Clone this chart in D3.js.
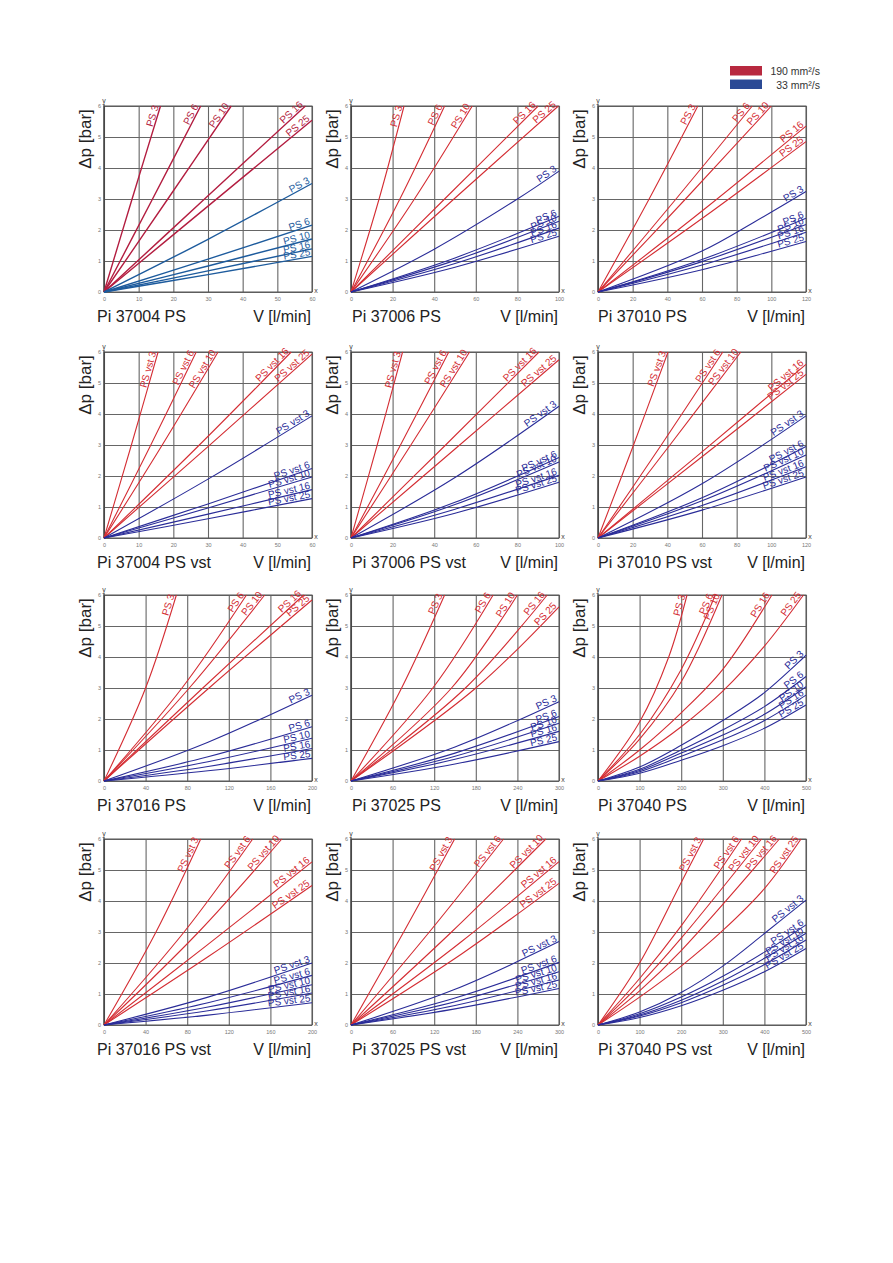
<!DOCTYPE html>
<html>
<head>
<meta charset="utf-8">
<script src="https://cdn.jsdelivr.net/npm/d3@7"></script>
<style>
  body { margin: 0; background: #fff; }
  text { font-family: Arial, "Liberation Sans", sans-serif; }
</style>
</head>
<body>
<div id="plot"></div>
<script>
// panel titles and x ranges
const titles = ["Pi 37004 PS", "Pi 37006 PS", "Pi 37010 PS",
                "Pi 37004 PS vst", "Pi 37006 PS vst", "Pi 37010 PS vst",
                "Pi 37016 PS", "Pi 37025 PS", "Pi 37040 PS",
                "Pi 37016 PS vst", "Pi 37025 PS vst", "Pi 37040 PS vst"];
const xTicks = [[0, 10, 20, 30, 40, 50, 60], [0, 20, 40, 60, 80, 100], [0, 20, 40, 60, 80, 100, 120],
                [0, 10, 20, 30, 40, 50, 60], [0, 20, 40, 60, 80, 100], [0, 20, 40, 60, 80, 100, 120],
                [0, 40, 80, 120, 160, 200], [0, 60, 120, 180, 240, 300], [0, 100, 200, 300, 400, 500],
                [0, 40, 80, 120, 160, 200], [0, 60, 120, 180, 240, 300], [0, 100, 200, 300, 400, 500]];
const yTicks = [0, 1, 2, 3, 4, 5, 6];
const namesPS = ["PS 3", "PS 6", "PS 10", "PS 16", "PS 25"];
const namesVst = ["PS vst 3", "PS vst 6", "PS vst 10", "PS vst 16", "PS vst 25"];
const legendLabels = ["190 mm²/s", "33 mm²/s"];

// curves: [V l/min, dp bar]
const red37004 = [[[0,0],[8.1,3],[16.3,6]], [[0,0],[14,3],[27.9,6]], [[0,0],[18.4,3],[36.7,6]],
                  [[0,0],[29,3],[58.1,6]], [[0,0],[30,2.77],[60,5.54]]];
const blue37004 = [[[0,0],[30,1.7],[60,3.5]], [[0,0],[30,1.06],[60,2.16]], [[0,0],[30,0.84],[60,1.71]],
                   [[0,0],[30,0.68],[60,1.39]], [[0,0],[30,0.56],[60,1.15]]];
const red37006 = [[[0,0],[13.5,3],[25.5,6]], [[0,0],[23.5,3],[45,6]], [[0,0],[30.5,3],[58.3,6]],
                  [[0,0],[45,3],[90,6]], [[0,0],[49.5,3],[99.7,6]]];
const blue37006 = [[[0,0],[40,1.38],[80,3.0],[100,3.9]], [[0,0],[50,1.1],[100,2.44]], [[0,0],[50,1.02],[100,2.28]],
                   [[0,0],[50,0.92],[100,2.06]], [[0,0],[50,0.8],[100,1.8]]];
const red37010 = [[[0,0],[29.5,3],[57.6,6]], [[0,0],[45,3],[89,6]], [[0,0],[50.5,3],[100,6]],
                  [[0,0],[62,2.7],[120,5.35]], [[0,0],[62,2.45],[120,4.85]]];
const blue37010 = [[[0,0],[60,1.32],[90,2.25],[120,3.24]], [[0,0],[60,1.05],[120,2.38]], [[0,0],[60,0.98],[120,2.18]],
                   [[0,0],[60,0.87],[120,1.93]], [[0,0],[60,0.72],[120,1.63]]];
const red37004v = [[[0,0],[7.9,3],[15.6,6]], [[0,0],[13.5,3],[26.6,6]], [[0,0],[16.8,3],[32.9,6]],
                   [[0,0],[27.5,3],[54,6]], [[0,0],[30,2.95],[60,5.93]]];
const blue37004v = [[[0,0],[30,1.9],[60,3.94]], [[0,0],[30,1.1],[60,2.24]], [[0,0],[30,0.97],[60,1.97]],
                    [[0,0],[30,0.77],[60,1.56]], [[0,0],[30,0.62],[60,1.27]]];
const red37006v = [[[0,0],[12.6,3],[24.8,6]], [[0,0],[23.8,3],[47,6]], [[0,0],[28.8,3],[57,6]],
                   [[0,0],[45.5,3],[90.4,6]], [[0,0],[50,2.87],[100,5.75]]];
const blue37006v = [[[0,0],[50,1.95],[100,4.25]], [[0,0],[50,1.15],[100,2.6]], [[0,0],[50,1.08],[100,2.45]],
                    [[0,0],[50,0.93],[100,2.02]], [[0,0],[50,0.8],[100,1.8]]];
const red37010v = [[[0,0],[20.5,3],[40.4,6]], [[0,0],[36.5,3],[72,6]], [[0,0],[41.5,3],[82.4,6]],
                   [[0,0],[60,2.78],[120,5.6]], [[0,0],[60,2.62],[120,5.28]]];
const blue37010v = [[[0,0],[60,1.75],[120,3.94]], [[0,0],[60,1.3],[120,2.95]], [[0,0],[60,1.2],[120,2.68]],
                    [[0,0],[60,1.05],[120,2.3]], [[0,0],[60,0.9],[120,1.97]]];
const red37016 = [[[0,0],[40,3],[69.6,6]], [[0,0],[75,3],[137,6]], [[0,0],[82,3],[154.5,6]],
                  [[0,0],[95,3],[192,6]], [[0,0],[101,3],[200,5.84]]];
const blue37016 = [[[0,0],[100,1.25],[200,2.77]], [[0,0],[100,0.78],[200,1.75]], [[0,0],[100,0.62],[200,1.38]],
                   [[0,0],[100,0.47],[200,1.05]], [[0,0],[100,0.33],[200,0.73]]];
const red37025 = [[[0,0],[73,3],[135,6]], [[0,0],[118,3],[205,6]], [[0,0],[145,3],[240,6]],
                  [[0,0],[165,3],[283,6]], [[0,0],[180,3],[300,5.62]]];
const blue37025 = [[[0,0],[150,1.1],[300,2.56]], [[0,0],[150,0.9],[300,2.08]], [[0,0],[150,0.8],[300,1.86]],
                   [[0,0],[150,0.7],[300,1.6]], [[0,0],[150,0.55],[300,1.27]]];
const red37040 = [[[0,0],[100,1.9],[170,4],[214,6]], [[0,0],[100,1.5],[200,3.6],[282,6]],
                  [[0,0],[100,1.35],[200,3.2],[298,6]], [[0,0],[100,1.0],[200,2.2],[300,3.6],[418,6]],
                  [[0,0],[100,0.8],[200,1.75],[300,2.9],[400,4.35],[494,6]]];
const blue37040 = [[[0,0],[100,0.45],[200,1.15],[300,1.95],[400,2.85],[500,4.06]],
                   [[0,0],[100,0.38],[200,1.0],[300,1.65],[400,2.4],[500,3.37]],
                   [[0,0],[100,0.34],[200,0.9],[300,1.48],[400,2.15],[500,3.04]],
                   [[0,0],[100,0.3],[200,0.8],[300,1.33],[400,1.95],[500,2.77]],
                   [[0,0],[100,0.25],[200,0.67],[300,1.14],[400,1.7],[500,2.45]]];
const red37016v = [[[0,0],[50,3],[93,6]], [[0,0],[77,3],[143,6]], [[0,0],[91,3],[171,6]],
                   [[0,0],[100,2.6],[200,5.26]], [[0,0],[100,2.2],[200,4.5]]];
const blue37016v = [[[0,0],[100,0.9],[200,2.0]], [[0,0],[100,0.72],[200,1.6]], [[0,0],[100,0.58],[200,1.3]],
                    [[0,0],[100,0.46],[200,1.03]], [[0,0],[100,0.32],[200,0.72]]];
const red37025v = [[[0,0],[76,3],[149.5,6]], [[0,0],[113,3],[220,6]], [[0,0],[145,3],[281,6]],
                   [[0,0],[160,2.7],[300,5.27]], [[0,0],[160,2.3],[300,4.57]]];
const blue37025v = [[[0,0],[150,1.15],[300,2.69]], [[0,0],[150,0.87],[300,2.02]], [[0,0],[150,0.75],[300,1.72]],
                    [[0,0],[150,0.63],[300,1.45]], [[0,0],[150,0.52],[300,1.18]]];
const red37040v = [[[0,0],[100,2.0],[200,4.6],[254,6]], [[0,0],[100,1.5],[200,3.2],[345,6]],
                   [[0,0],[100,1.3],[200,2.8],[393,6]], [[0,0],[100,1.1],[200,2.4],[436,6]],
                   [[0,0],[100,0.9],[200,1.9],[300,3.05],[400,4.4],[488,6]]];
const blue37040v = [[[0,0],[100,0.42],[200,1.05],[300,1.9],[400,2.95],[500,4.03]],
                    [[0,0],[100,0.36],[200,0.9],[300,1.57],[400,2.35],[500,3.23]],
                    [[0,0],[100,0.32],[200,0.8],[300,1.42],[400,2.15],[500,2.96]],
                    [[0,0],[100,0.29],[200,0.72],[300,1.28],[400,1.95],[500,2.74]],
                    [[0,0],[100,0.24],[200,0.62],[300,1.12],[400,1.72],[500,2.47]]];

const redSets = [red37004, red37006, red37010, red37004v, red37006v, red37010v,
                 red37016, red37025, red37040, red37016v, red37025v, red37040v];
const blueSets = [blue37004, blue37006, blue37010, blue37004v, blue37006v, blue37010v,
                  blue37016, blue37025, blue37040, blue37016v, blue37025v, blue37040v];

// layout
const colLeft = [104, 351, 598];
const rowTop = [106, 352, 595, 839];
const plotW = 208, plotH = 186;
const titleX = [97, 352, 598];

const svg = d3.select("#plot").append("svg")
    .attr("width", 893)
    .attr("height", 1263)
    .style("background", "#fff");

// legend
const legendColors = ["#b8293f", "#2b4a95"];
legendLabels.forEach((t, i) => {
    svg.append("rect")
        .attr("x", 730).attr("y", 66 + i * 13.5)
        .attr("width", 32).attr("height", 9.5)
        .attr("fill", legendColors[i]);
    svg.append("text")
        .attr("x", 820).attr("y", 75 + i * 13.5)
        .attr("text-anchor", "end")
        .attr("font-size", 10.5)
        .attr("fill", "#333")
        .text(t);
});

function drawPanel(i) {
    const col = i % 3, row = Math.floor(i / 3);
    const left = colLeft[col], top = rowTop[row];
    const ticks = xTicks[i];
    const xMax = ticks[ticks.length - 1];
    const x = d3.scaleLinear().domain([0, xMax]).range([left, left + plotW]);
    const y = d3.scaleLinear().domain([0, 6]).range([top + plotH, top]);
    const names = titles[i].endsWith("vst") ? namesVst : namesPS;
    const redCol = i === 0 ? "#b31d40" : "#d42d33";
    const blueCol = i === 0 ? "#1d5b9d" : "#2a2c98";
    const lw = i === 0 ? 1.4 : 1.1;

    const g = svg.append("g");

    // grid + tick labels
    const xa = g.append("g")
        .attr("transform", `translate(0,${top + plotH})`)
        .call(d3.axisBottom(x).tickValues(ticks).tickSize(-plotH).tickPadding(5)
            .tickFormat(d3.format("d")));
    const ya = g.append("g")
        .attr("transform", `translate(${left},0)`)
        .call(d3.axisLeft(y).tickValues(yTicks).tickSize(-plotW).tickPadding(3)
            .tickFormat(d3.format("d")));
    [xa, ya].forEach(a => {
        a.select(".domain").remove();
        a.selectAll("line").attr("stroke", "#666").attr("stroke-width", 1.1);
        a.selectAll("text").attr("font-size", 5.5).attr("fill", "#777")
            .attr("font-family", "Arial, sans-serif");
    });

    // frame
    g.append("rect")
        .attr("x", left).attr("y", top)
        .attr("width", plotW).attr("height", plotH)
        .attr("fill", "none").attr("stroke", "#555").attr("stroke-width", 1);
    g.append("line")
        .attr("x1", left).attr("x2", left).attr("y1", top - 2).attr("y2", top + plotH)
        .attr("stroke", "#333");

    g.append("text").attr("x", left).attr("y", top - 3)
        .attr("text-anchor", "middle").attr("font-size", 7).attr("fill", "#444").text("y");
    g.append("text").attr("x", left + plotW + 4).attr("y", top + plotH + 1)
        .attr("text-anchor", "middle").attr("font-size", 7).attr("fill", "#444").text("x");

    // titles
    g.append("text")
        .attr("x", titleX[col]).attr("y", top + plotH + 30)
        .attr("font-size", 16).attr("fill", "#222")
        .text(titles[i]);
    g.append("text")
        .attr("x", left + plotW - 1).attr("y", top + plotH + 30)
        .attr("text-anchor", "end")
        .attr("font-size", 16).attr("fill", "#222")
        .text("V [l/min]");
    g.append("text")
        .attr("transform", `translate(${left - 13},${top + 33}) rotate(-90)`)
        .attr("text-anchor", "middle")
        .attr("font-size", 17).attr("fill", "#222")
        .text("Δp [bar]");

    const line = d3.line()
        .x(d => x(d[0]))
        .y(d => y(d[1]))
        .curve(d3.curveCatmullRom.alpha(0.5));

    const sets = [[redSets[i], redCol], [blueSets[i], blueCol]];
    sets.forEach(([curves, color]) => {
        curves.forEach((pts, k) => {
            const path = g.append("path")
                .attr("d", line(pts))
                .attr("fill", "none")
                .attr("stroke", color)
                .attr("stroke-width", lw);
            const node = path.node();
            const L = node.getTotalLength();
            const p1 = node.getPointAtLength(L);
            const p0 = node.getPointAtLength(L - 10);
            const ang = Math.atan2(p1.y - p0.y, p1.x - p0.x) * 180 / Math.PI;
            g.append("text")
                .attr("transform", `translate(${p1.x},${p1.y}) rotate(${ang})`)
                .attr("text-anchor", "end")
                .attr("dx", -1)
                .attr("dy", -1.5)
                .attr("font-size", 10)
                .attr("fill", color)
                .text(names[k]);
        });
    });
}

titles.forEach((t, i) => drawPanel(i));
</script>
</body>
</html>
